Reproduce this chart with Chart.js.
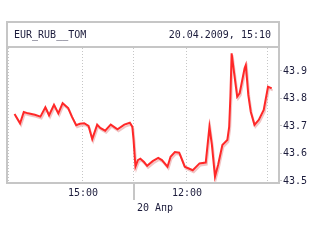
<!DOCTYPE html>
<html lang="ru">
<head>
<meta charset="UTF-8">
<title>EUR_RUB__TOM</title>
<script src="https://cdn.jsdelivr.net/npm/chart.js"></script>
<style>
  html, body { margin: 0; padding: 0; background: #fff; }
  #wrap { width: 320px; height: 240px; }
</style>
</head>
<body>
<div id="wrap"><canvas id="chart" width="320" height="240"></canvas></div>
<script>
    // session minutes (13:00 of day 1 = 0, day 2 follows the break)
    var minutes = [9, 18, 24, 31, 42, 51, 59, 65, 73, 80, 87, 96, 102, 109, 115, 122, 129, 135, 143, 148,
        156, 165, 176, 187, 196, 200, 202, 205, 209, 213, 219, 224, 233, 242, 248, 257, 262, 269, 276, 285,
        298, 309, 319, 322, 325, 329, 334, 339, 346, 354, 357, 359, 361, 364, 370, 374, 382, 384, 388, 392,
        398, 405, 413, 420, 426];
    var prices = [43.744, 43.710, 43.751, 43.746, 43.741, 43.734, 43.768, 43.739, 43.777, 43.746, 43.783, 43.765, 43.734, 43.703, 43.708, 43.710, 43.700, 43.652, 43.705, 43.693,
        43.683, 43.705, 43.688, 43.705, 43.712, 43.697, 43.649, 43.552, 43.576, 43.581, 43.569, 43.555, 43.572, 43.584, 43.576, 43.552, 43.588, 43.605, 43.603, 43.552,
        43.539, 43.564, 43.567, 43.631, 43.697, 43.631, 43.516, 43.558, 43.631, 43.649, 43.697, 43.807, 43.964, 43.910, 43.807, 43.819, 43.910, 43.922, 43.813, 43.752,
        43.704, 43.722, 43.758, 43.843, 43.837];

    var gridMinutes = [0, 120, 202.7, 288.6, 418.4];
    var gridLabels = ['', '15:00', '', '12:00', ''];
    var dayBreak = 202.7;
    var dayLabel = '20 Апр';
    var yTicks = [43.5, 43.6, 43.7, 43.8, 43.9];

    var titleLeft = 'EUR_RUB__TOM';
    var titleRight = '20.04.2009, 15:10';

    var fonte = 'DejaVu Sans Mono';
    var cinza = '#c6c6c6';
    var texto = '#1c1c3c';

    const moldura = {
        id: 'moldura',
        afterDraw(chart) {
            const ctx = chart.ctx;
            const a = chart.chartArea;
            const top = 22;
            ctx.save();
            ctx.strokeStyle = cinza;
            ctx.lineWidth = 2;
            ctx.strokeRect(a.left, top, a.right - a.left, a.bottom - top);
            ctx.beginPath();
            ctx.moveTo(a.left, a.top - 1);
            ctx.lineTo(a.right, a.top - 1);
            ctx.stroke();

            // separador do dia
            const xb = Math.round(chart.scales.x.getPixelForValue(dayBreak));
            ctx.beginPath();
            ctx.moveTo(xb, a.bottom);
            ctx.lineTo(xb, a.bottom + 17);
            ctx.stroke();

            ctx.fillStyle = texto;
            ctx.font = '10px "' + fonte + '"';
            ctx.textBaseline = 'middle';
            ctx.textAlign = 'left';
            ctx.fillText(dayLabel, xb + 3, a.bottom + 25);
            ctx.fillText(titleLeft, a.left + 7, 35);
            ctx.textAlign = 'right';
            ctx.fillText(titleRight, a.right - 8, 35);
            ctx.restore();
        }
    };

    const sombra = {
        id: 'sombra',
        beforeDatasetDraw(chart) {
            chart.ctx.save();
            chart.ctx.shadowColor = 'rgba(230, 150, 150, 0.55)';
            chart.ctx.shadowOffsetX = 1;
            chart.ctx.shadowOffsetY = 2;
            chart.ctx.shadowBlur = 0;
        },
        afterDatasetDraw(chart) {
            chart.ctx.restore();
        }
    };

    const ctx = document.getElementById('chart');

    new Chart(ctx, {
        type: 'line',
        data: {
            datasets: [{
                label: titleLeft,
                data: minutes.map((m, i) => ({ x: m, y: prices[i] })),
                borderColor: '#ff2828',
                borderWidth: 2,
                pointRadius: 0,
                tension: 0,
                fill: false
            }]
        },
        options: {
            responsive: false,
            animation: false,
            layout: { padding: { left: 7, top: 48, right: 0, bottom: 0 } },
            plugins: {
                legend: { display: false },
                tooltip: { enabled: false }
            },
            scales: {
                x: {
                    type: 'linear',
                    min: -3.2,
                    max: 437.8,
                    afterBuildTicks: function (scale) {
                        scale.ticks = gridMinutes.map(v => ({ value: v }));
                    },
                    afterFit: function (scale) { scale.height = 57; },
                    grid: { color: cinza, lineWidth: 1, drawTicks: false },
                    border: { display: false, dash: [1, 2] },
                    ticks: {
                        padding: 4,
                        maxRotation: 0,
                        autoSkip: false,
                        color: texto,
                        font: { family: fonte, size: 10 },
                        callback: function (v, i) { return gridLabels[i]; }
                    }
                },
                y: {
                    position: 'right',
                    min: 43.4927,
                    max: 43.9836,
                    afterBuildTicks: function (scale) {
                        scale.ticks = yTicks.map(v => ({ value: v }));
                    },
                    afterFit: function (scale) { scale.width = 41; },
                    grid: { drawOnChartArea: false, drawTicks: true, tickLength: 3, tickColor: cinza, tickWidth: 1 },
                    border: { display: false },
                    ticks: {
                        padding: 1,
                        color: texto,
                        font: { family: fonte, size: 10 },
                        callback: function (v) { return v.toFixed(1); }
                    }
                }
            }
        },
        plugins: [sombra, moldura]
    });
</script>
</body>
</html>
